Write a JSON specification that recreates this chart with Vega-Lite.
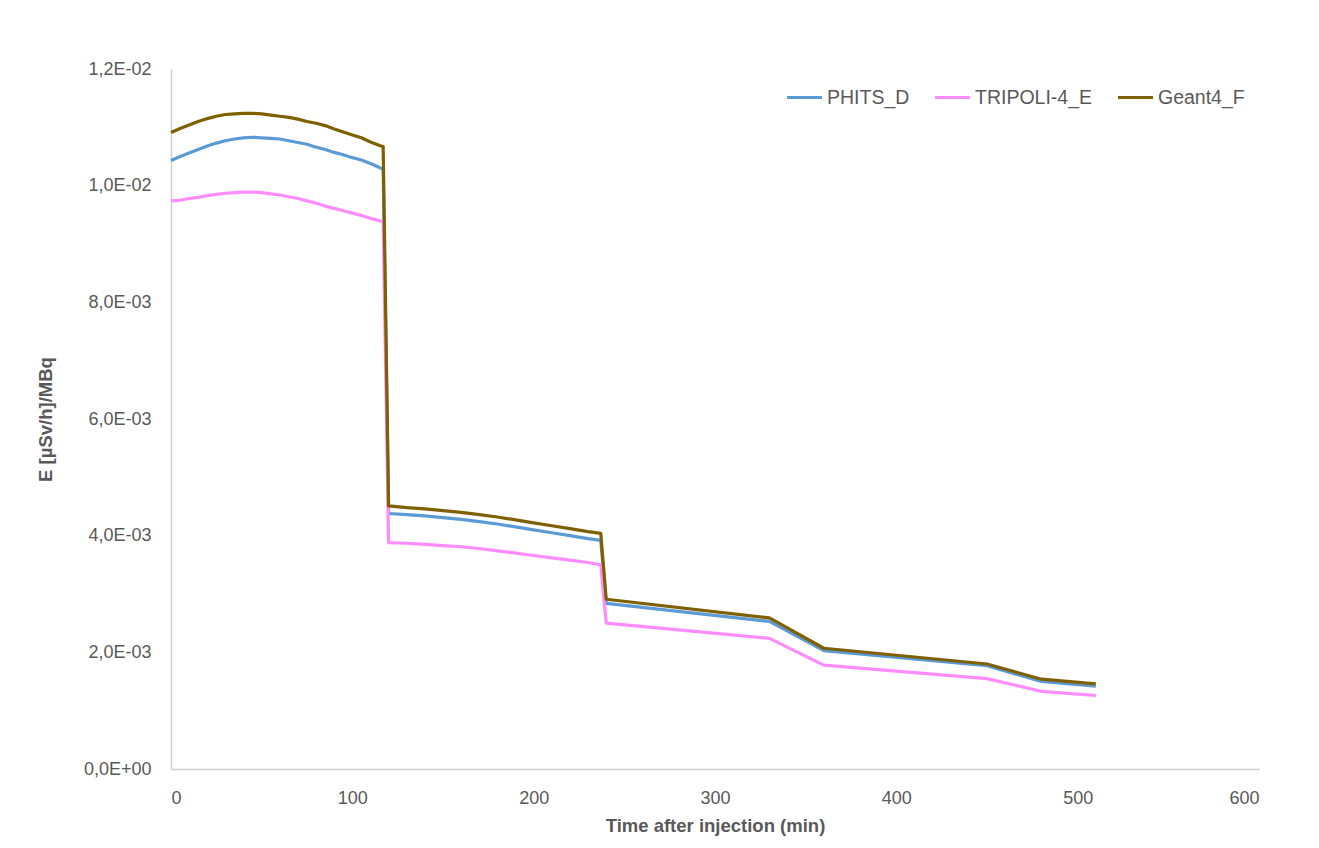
{
  "$schema": "https://vega.github.io/schema/vega-lite/v6.json",
  "autosize": "none",
  "width": 1088,
  "height": 700,
  "padding": {"left": 171, "top": 69, "right": 60, "bottom": 79},
  "background": "white",
  "config": {
    "view": {"stroke": null},
    "font": "Liberation Sans",
    "axis": {
      "grid": false,
      "ticks": false,
      "domainColor": "#D0D0D0",
      "domainWidth": 1.5,
      "labelColor": "#595959",
      "labelFontSize": 18,
      "labelFont": "Liberation Sans",
      "titleColor": "#595959",
      "titleFontSize": 18.5,
      "titleFont": "Liberation Sans",
      "titleFontWeight": "bold"
    }
  },
  "data": {
    "values": [
      {"series": "PHITS_D", "t": 0, "E": 0.01043},
      {"series": "PHITS_D", "t": 5, "E": 0.01050},
      {"series": "PHITS_D", "t": 10, "E": 0.01056},
      {"series": "PHITS_D", "t": 15, "E": 0.01062},
      {"series": "PHITS_D", "t": 20, "E": 0.01068},
      {"series": "PHITS_D", "t": 25, "E": 0.01073},
      {"series": "PHITS_D", "t": 30, "E": 0.01077},
      {"series": "PHITS_D", "t": 35, "E": 0.01080},
      {"series": "PHITS_D", "t": 40, "E": 0.01082},
      {"series": "PHITS_D", "t": 45, "E": 0.01083},
      {"series": "PHITS_D", "t": 50, "E": 0.01082},
      {"series": "PHITS_D", "t": 55, "E": 0.01081},
      {"series": "PHITS_D", "t": 60, "E": 0.01080},
      {"series": "PHITS_D", "t": 65, "E": 0.01077},
      {"series": "PHITS_D", "t": 70, "E": 0.01074},
      {"series": "PHITS_D", "t": 75, "E": 0.01071},
      {"series": "PHITS_D", "t": 80, "E": 0.01066},
      {"series": "PHITS_D", "t": 85, "E": 0.01062},
      {"series": "PHITS_D", "t": 90, "E": 0.01057},
      {"series": "PHITS_D", "t": 95, "E": 0.01053},
      {"series": "PHITS_D", "t": 100, "E": 0.01048},
      {"series": "PHITS_D", "t": 105, "E": 0.01044},
      {"series": "PHITS_D", "t": 110, "E": 0.01038},
      {"series": "PHITS_D", "t": 115, "E": 0.01031},
      {"series": "PHITS_D", "t": 117, "E": 0.01028},
      {"series": "PHITS_D", "t": 120, "E": 0.00438},
      {"series": "PHITS_D", "t": 130, "E": 0.00436},
      {"series": "PHITS_D", "t": 140, "E": 0.00434},
      {"series": "PHITS_D", "t": 150, "E": 0.00431},
      {"series": "PHITS_D", "t": 160, "E": 0.00428},
      {"series": "PHITS_D", "t": 170, "E": 0.00424},
      {"series": "PHITS_D", "t": 180, "E": 0.00420},
      {"series": "PHITS_D", "t": 190, "E": 0.00415},
      {"series": "PHITS_D", "t": 200, "E": 0.00410},
      {"series": "PHITS_D", "t": 210, "E": 0.00405},
      {"series": "PHITS_D", "t": 220, "E": 0.00400},
      {"series": "PHITS_D", "t": 230, "E": 0.00395},
      {"series": "PHITS_D", "t": 237, "E": 0.00392},
      {"series": "PHITS_D", "t": 240, "E": 0.00284},
      {"series": "PHITS_D", "t": 330, "E": 0.00253},
      {"series": "PHITS_D", "t": 360, "E": 0.00203},
      {"series": "PHITS_D", "t": 450, "E": 0.00177},
      {"series": "PHITS_D", "t": 480, "E": 0.00150},
      {"series": "PHITS_D", "t": 510, "E": 0.00142},

      {"series": "TRIPOLI-4_E", "t": 0, "E": 0.00974},
      {"series": "TRIPOLI-4_E", "t": 5, "E": 0.00975},
      {"series": "TRIPOLI-4_E", "t": 10, "E": 0.00978},
      {"series": "TRIPOLI-4_E", "t": 15, "E": 0.00980},
      {"series": "TRIPOLI-4_E", "t": 20, "E": 0.00983},
      {"series": "TRIPOLI-4_E", "t": 25, "E": 0.00985},
      {"series": "TRIPOLI-4_E", "t": 30, "E": 0.00987},
      {"series": "TRIPOLI-4_E", "t": 35, "E": 0.00988},
      {"series": "TRIPOLI-4_E", "t": 40, "E": 0.00989},
      {"series": "TRIPOLI-4_E", "t": 45, "E": 0.00989},
      {"series": "TRIPOLI-4_E", "t": 50, "E": 0.00988},
      {"series": "TRIPOLI-4_E", "t": 55, "E": 0.00986},
      {"series": "TRIPOLI-4_E", "t": 60, "E": 0.00984},
      {"series": "TRIPOLI-4_E", "t": 65, "E": 0.00981},
      {"series": "TRIPOLI-4_E", "t": 70, "E": 0.00978},
      {"series": "TRIPOLI-4_E", "t": 75, "E": 0.00974},
      {"series": "TRIPOLI-4_E", "t": 80, "E": 0.00970},
      {"series": "TRIPOLI-4_E", "t": 85, "E": 0.00965},
      {"series": "TRIPOLI-4_E", "t": 90, "E": 0.00961},
      {"series": "TRIPOLI-4_E", "t": 95, "E": 0.00957},
      {"series": "TRIPOLI-4_E", "t": 100, "E": 0.00953},
      {"series": "TRIPOLI-4_E", "t": 105, "E": 0.00949},
      {"series": "TRIPOLI-4_E", "t": 110, "E": 0.00944},
      {"series": "TRIPOLI-4_E", "t": 115, "E": 0.00940},
      {"series": "TRIPOLI-4_E", "t": 117, "E": 0.00938},
      {"series": "TRIPOLI-4_E", "t": 120, "E": 0.00388},
      {"series": "TRIPOLI-4_E", "t": 130, "E": 0.00387},
      {"series": "TRIPOLI-4_E", "t": 140, "E": 0.00385},
      {"series": "TRIPOLI-4_E", "t": 150, "E": 0.00383},
      {"series": "TRIPOLI-4_E", "t": 160, "E": 0.00381},
      {"series": "TRIPOLI-4_E", "t": 170, "E": 0.00378},
      {"series": "TRIPOLI-4_E", "t": 180, "E": 0.00374},
      {"series": "TRIPOLI-4_E", "t": 190, "E": 0.00370},
      {"series": "TRIPOLI-4_E", "t": 200, "E": 0.00366},
      {"series": "TRIPOLI-4_E", "t": 210, "E": 0.00362},
      {"series": "TRIPOLI-4_E", "t": 220, "E": 0.00358},
      {"series": "TRIPOLI-4_E", "t": 230, "E": 0.00354},
      {"series": "TRIPOLI-4_E", "t": 237, "E": 0.00350},
      {"series": "TRIPOLI-4_E", "t": 240, "E": 0.00250},
      {"series": "TRIPOLI-4_E", "t": 330, "E": 0.00224},
      {"series": "TRIPOLI-4_E", "t": 360, "E": 0.00178},
      {"series": "TRIPOLI-4_E", "t": 450, "E": 0.00155},
      {"series": "TRIPOLI-4_E", "t": 480, "E": 0.00133},
      {"series": "TRIPOLI-4_E", "t": 510, "E": 0.00126},

      {"series": "Geant4_F", "t": 0, "E": 0.01091},
      {"series": "Geant4_F", "t": 5, "E": 0.01098},
      {"series": "Geant4_F", "t": 10, "E": 0.01104},
      {"series": "Geant4_F", "t": 15, "E": 0.01110},
      {"series": "Geant4_F", "t": 20, "E": 0.01115},
      {"series": "Geant4_F", "t": 25, "E": 0.01119},
      {"series": "Geant4_F", "t": 30, "E": 0.01122},
      {"series": "Geant4_F", "t": 35, "E": 0.01123},
      {"series": "Geant4_F", "t": 40, "E": 0.01124},
      {"series": "Geant4_F", "t": 45, "E": 0.01124},
      {"series": "Geant4_F", "t": 50, "E": 0.01123},
      {"series": "Geant4_F", "t": 55, "E": 0.01121},
      {"series": "Geant4_F", "t": 60, "E": 0.01119},
      {"series": "Geant4_F", "t": 65, "E": 0.01117},
      {"series": "Geant4_F", "t": 70, "E": 0.01114},
      {"series": "Geant4_F", "t": 75, "E": 0.01110},
      {"series": "Geant4_F", "t": 80, "E": 0.01107},
      {"series": "Geant4_F", "t": 85, "E": 0.01103},
      {"series": "Geant4_F", "t": 90, "E": 0.01097},
      {"series": "Geant4_F", "t": 95, "E": 0.01092},
      {"series": "Geant4_F", "t": 100, "E": 0.01087},
      {"series": "Geant4_F", "t": 105, "E": 0.01082},
      {"series": "Geant4_F", "t": 110, "E": 0.01075},
      {"series": "Geant4_F", "t": 115, "E": 0.01069},
      {"series": "Geant4_F", "t": 117, "E": 0.01067},
      {"series": "Geant4_F", "t": 120, "E": 0.00451},
      {"series": "Geant4_F", "t": 130, "E": 0.00448},
      {"series": "Geant4_F", "t": 140, "E": 0.00446},
      {"series": "Geant4_F", "t": 150, "E": 0.00443},
      {"series": "Geant4_F", "t": 160, "E": 0.00440},
      {"series": "Geant4_F", "t": 170, "E": 0.00436},
      {"series": "Geant4_F", "t": 180, "E": 0.00432},
      {"series": "Geant4_F", "t": 190, "E": 0.00427},
      {"series": "Geant4_F", "t": 200, "E": 0.00422},
      {"series": "Geant4_F", "t": 210, "E": 0.00417},
      {"series": "Geant4_F", "t": 220, "E": 0.00412},
      {"series": "Geant4_F", "t": 230, "E": 0.00407},
      {"series": "Geant4_F", "t": 237, "E": 0.00404},
      {"series": "Geant4_F", "t": 240, "E": 0.00291},
      {"series": "Geant4_F", "t": 330, "E": 0.00259},
      {"series": "Geant4_F", "t": 360, "E": 0.00207},
      {"series": "Geant4_F", "t": 450, "E": 0.00180},
      {"series": "Geant4_F", "t": 480, "E": 0.00154},
      {"series": "Geant4_F", "t": 510, "E": 0.00146}
    ]
  },
  "mark": {"type": "line", "strokeJoin": "round", "strokeCap": "butt"},
  "encoding": {
    "x": {
      "field": "t",
      "type": "quantitative",
      "scale": {"domain": [0, 600], "nice": false},
      "axis": {
        "values": [0, 100, 200, 300, 400, 500, 600],
        "labelPadding": 20,
        "title": "Time after injection (min)",
        "titlePadding": 9
      }
    },
    "y": {
      "field": "E",
      "type": "quantitative",
      "scale": {"domain": [0, 0.012], "nice": false},
      "axis": {
        "values": [0, 0.002, 0.004, 0.006, 0.008, 0.01, 0.012],
        "labelPadding": 20,
        "labelExpr": "datum.value == 0 ? '0,0E+00' : (datum.value < 0.0099 ? replace(format(datum.value * 1000, '.1f'), '.', ',') + 'E-03' : replace(format(datum.value * 100, '.1f'), '.', ',') + 'E-02')",
        "title": "E [µSv/h]/MBq",
        "titlePadding": 28
      }
    },
    "color": {
      "field": "series",
      "type": "nominal",
      "sort": ["PHITS_D", "TRIPOLI-4_E", "Geant4_F"],
      "scale": {
        "domain": ["PHITS_D", "TRIPOLI-4_E", "Geant4_F"],
        "range": ["#5B9BD5", "#FF8CFF", "#7F6000"]
      },
      "legend": {
        "title": null,
        "orient": "none",
        "legendX": 614,
        "legendY": 9,
        "direction": "horizontal",
        "symbolType": "stroke",
        "symbolSize": 1225,
        "symbolStrokeWidth": 3,
        "labelFontSize": 19.5,
        "labelColor": "#595959",
        "labelFont": "Liberation Sans",
        "labelOffset": 3,
        "columnPadding": 18
      }
    },
    "strokeWidth": {
      "field": "series",
      "type": "nominal",
      "scale": {
        "domain": ["PHITS_D", "TRIPOLI-4_E", "Geant4_F"],
        "range": [3.2, 3.2, 2.5]
      },
      "legend": null
    }
  }
}
